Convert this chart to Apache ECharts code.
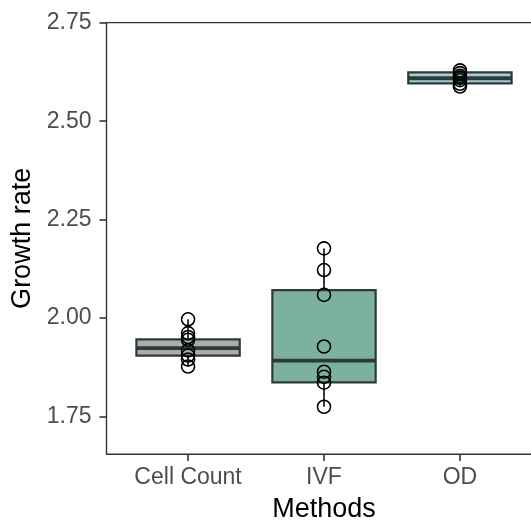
<!DOCTYPE html>
<html>
<head>
<meta charset="utf-8">
<script src="https://cdn.jsdelivr.net/npm/echarts@6/dist/echarts.min.js"></script>
<style>html,body{margin:0;padding:0;background:#fff}#c{width:531px;height:520px}</style>
</head>
<body>
<div id="c"></div>
<script>
// ---- data ----
var categories = ['Cell Count', 'IVF', 'OD'];
// box stats per category: [min, Q1, median, Q3, max]
var boxCellCount = [1.877, 1.905, 1.924, 1.946, 1.997];
var boxIVF = [1.775, 1.837, 1.892, 2.071, 2.177];
var boxOD = [2.588, 2.596, 2.609, 2.624, 2.629];
// individual observations
var pointsCellCount = [1.997, 1.962, 1.952, 1.945, 1.918, 1.905, 1.895, 1.877];
var pointsIVF = [2.177, 2.122, 2.059, 1.928, 1.864, 1.851, 1.836, 1.775];
var pointsOD = [2.629, 2.622, 2.615, 2.610, 2.604, 2.595, 2.588];
var yTicks = [1.75, 2.00, 2.25, 2.50, 2.75];

// ---- styles ----
var fills = ['#abadad', '#7cb1a1', '#a7ccd3'];
var dark = '#2d3a3a';

var boxes = [boxCellCount, boxIVF, boxOD];
var pts = [pointsCellCount, pointsIVF, pointsOD];
var boxData = boxes.map(function (b, i) { return [i + 1].concat(b); });
var scatterData = [];
pts.forEach(function (arr, i) { arr.forEach(function (v) { scatterData.push([i + 1, v]); }); });

var halfW = 0.38;
function renderBox(params, api) {
  var x = api.value(0), mn = api.value(1), q1 = api.value(2), md = api.value(3), q3 = api.value(4), mx = api.value(5);
  var c = api.coord([x, md]);
  var pMax = api.coord([x, mx]), pMin = api.coord([x, mn]);
  var lt = api.coord([x - halfW, q3]), rb = api.coord([x + halfW, q1]);
  var ml = api.coord([x - halfW, md]), mr = api.coord([x + halfW, md]);
  var idx = params.dataIndex;
  return {
    type: 'group',
    children: [
      { type: 'line', shape: { x1: c[0], y1: lt[1], x2: pMax[0], y2: pMax[1] }, style: { stroke: dark, lineWidth: 2 } },
      { type: 'line', shape: { x1: c[0], y1: rb[1], x2: pMin[0], y2: pMin[1] }, style: { stroke: dark, lineWidth: 2 } },
      { type: 'rect', shape: { x: lt[0], y: lt[1], width: rb[0] - lt[0], height: rb[1] - lt[1] }, style: { fill: fills[idx], stroke: dark, lineWidth: 2.2 } },
      { type: 'line', shape: { x1: ml[0], y1: ml[1], x2: mr[0], y2: mr[1] }, style: { stroke: dark, lineWidth: 3.8 } }
    ]
  };
}

var chart = echarts.init(document.getElementById('c'), null, { renderer: 'canvas' });
chart.setOption({
  animation: false,
  backgroundColor: '#fff',
  grid: { left: 106.5, top: 22.7, width: 435, height: 431.3, outerBoundsMode: 'none', containLabel: false,
    show: true, borderColor: '#333', borderWidth: 1.2, backgroundColor: 'transparent' },
  xAxis: {
    type: 'value', min: 0.4, max: 3.6,
    name: 'Methods', nameLocation: 'middle', nameGap: 42,
    nameTextStyle: { fontFamily: 'Liberation Sans', fontSize: 27, color: '#000' },
    axisLine: { show: true, lineStyle: { color: '#333', width: 1.2 } },
    axisTick: { show: true, length: 7, lineStyle: { color: '#333', width: 1.6 }, customValues: [1, 2, 3] },
    axisLabel: { show: true, margin: 12, fontFamily: 'Liberation Sans', fontSize: 23, color: '#4d4d4d', customValues: [1, 2, 3],
      formatter: function (v) { return categories[Math.round(v) - 1] || ''; } },
    splitLine: { show: false }
  },
  yAxis: {
    type: 'value', min: 1.655, max: 2.75,
    name: 'Growth rate', nameLocation: 'middle', nameGap: 65,
    nameTextStyle: { fontFamily: 'Liberation Sans', fontSize: 27, color: '#000' },
    axisLine: { show: true, lineStyle: { color: '#333', width: 1.2 } },
    axisTick: { show: true, length: 7, lineStyle: { color: '#333', width: 1.6 }, customValues: yTicks },
    axisLabel: { show: true, margin: 15, fontFamily: 'Liberation Sans', fontSize: 23, color: '#4d4d4d', customValues: yTicks,
      formatter: function (v) { return v.toFixed(2); } },
    splitLine: { show: false }
  },
  series: [
    { type: 'custom', renderItem: renderBox, data: boxData, encode: { x: 0, y: [1, 2, 3, 4, 5] }, z: 2 },
    { type: 'scatter', data: scatterData, symbol: 'circle', symbolSize: 13, z: 3,
      itemStyle: { color: 'rgba(0,0,0,0)', borderColor: '#000', borderWidth: 1.6, opacity: 1 } }
  ]
});
</script>
</body>
</html>
